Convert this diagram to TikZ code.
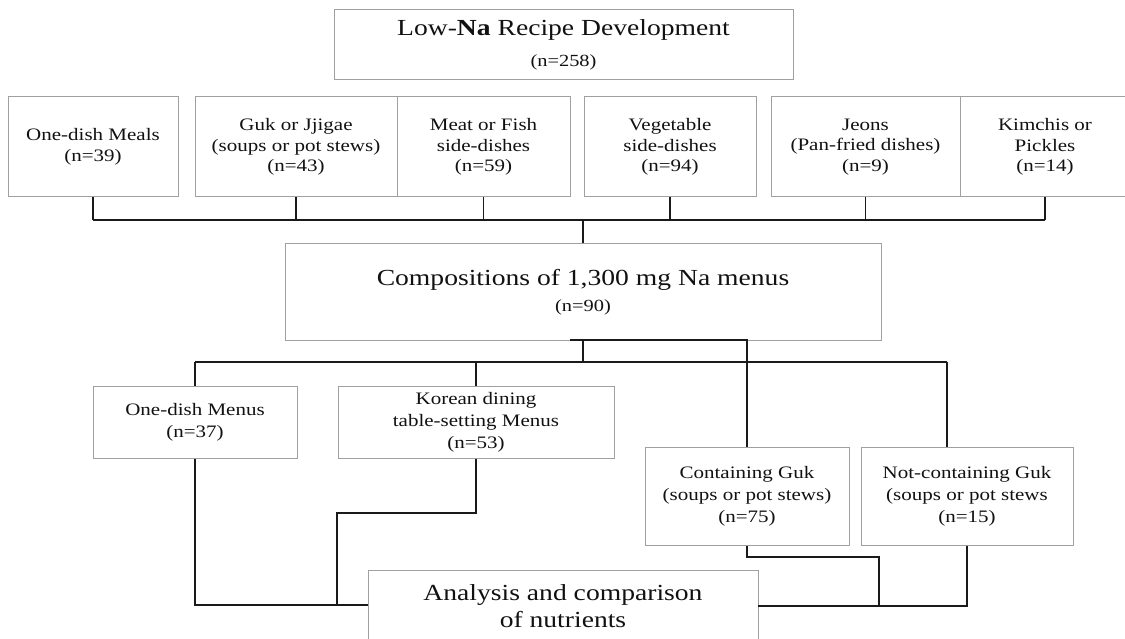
\documentclass[tikz,border=0pt]{standalone}
\usepackage{fontspec}
\setmainfont{Liberation Serif}[FakeStretch=1.2]
\definecolor{boxgray}{HTML}{A0A0A0}
\definecolor{linec}{HTML}{1A1A1A}
\definecolor{txtc}{HTML}{111111}
\tikzset{
  box/.style={draw=boxgray, line width=1pt, inner sep=0pt, text=txtc, align=center},
  rowtwo/.style={box, minimum height=100, font=\fontsize{17.5}{20.5}\selectfont},
  rowthree/.style={box, font=\fontsize{17.5}{22}\selectfont},
  conn/.style={draw=linec, line width=1.6pt}
}
\begin{document}
\begin{tikzpicture}[x=1pt,y=-1pt]
\useasboundingbox (0,0) rectangle (1125,639);
\clip (0,0) rectangle (1125,639);
% top box
\node[box, minimum width=459, minimum height=70, font=\fontsize{17}{31}\selectfont] (top) at (563.5,45)
  {{\fontsize{23}{24}\selectfont Low-\textbf{Na} Recipe Development}\\(n=258)};
% row 2
\node[rowtwo, minimum width=170] (m1) at (93,147) {One-dish Meals\\(n=39)};
\node[rowtwo, minimum width=202] (m2) at (296,147) {Guk or Jjigae\\(soups or pot stews)\\(n=43)};
\node[rowtwo, minimum width=173] (m3) at (483.5,147) {Meat or Fish\\side-dishes\\(n=59)};
\node[rowtwo, minimum width=172] (m4) at (670,147) {Vegetable\\side-dishes\\(n=94)};
\node[rowtwo, minimum width=189] (m5) at (865.5,147) {Jeons\\(Pan-fried dishes)\\(n=9)};
\node[rowtwo, minimum width=170] (m6) at (1045,147) {Kimchis or\\Pickles\\(n=14)};
% compositions
\node[box, minimum width=596, minimum height=96, font=\fontsize{17}{26}\selectfont] (comp) at (583,292)
  {{\fontsize{23}{24}\selectfont Compositions of 1,300 mg Na menus}\\(n=90)};
% row 3
\node[rowthree, minimum width=204, minimum height=72] (r1) at (195,422) {One-dish Menus\\(n=37)};
\node[rowthree, minimum width=276, minimum height=72] (r2) at (476,422) {Korean dining\\table-setting Menus\\(n=53)};
\node[rowthree, minimum width=204, minimum height=98] (cg) at (747,496) {Containing Guk\\(soups or pot stews)\\(n=75)};
\node[rowthree, minimum width=212, minimum height=98] (nc) at (967,496) {Not-containing Guk\\(soups or pot stews\\(n=15)};
% analysis
\node[box, minimum width=390, minimum height=72, font=\fontsize{23}{27}\selectfont] (an) at (563,606)
  {Analysis and comparison\\of nutrients};
% connectors top
\coordinate (bus1) at (583,220);
\draw[conn] (m1.south |- bus1) -- (m6.south |- bus1);
\foreach \n in {m1,m2,m3,m4,m5,m6} \draw[conn] (\n.south) -- (\n.south |- bus1);
\draw[conn] (bus1) -- (comp.north);
% connectors middle
\coordinate (bus2) at (583,362);
\coordinate (ncin) at (947,362);
\draw[conn] (comp.south) -- (bus2);
\draw[conn] (r1.north |- bus2) -- (ncin);
\draw[conn] (r1.north |- bus2) -- (r1.north);
\draw[conn] (r2.north |- bus2) -- (r2.north);
\draw[conn] (ncin) -- (ncin |- nc.north);
\coordinate (c0) at (570,340);
\draw[conn] (c0) -| (cg.north);
% connectors bottom
\coordinate (aL) at (368,605);
\coordinate (aR) at (758,606);
\coordinate (kc) at (337,513);
\coordinate (cc) at (879,557);
\draw[conn] (r1.south) |- (aL);
\draw[conn] (r2.south) |- (kc) -- (kc |- aL);
\draw[conn] (cg.south) |- (cc) -- (cc |- aR);
\draw[conn] (nc.south) |- (aR);
\end{tikzpicture}
\end{document}
